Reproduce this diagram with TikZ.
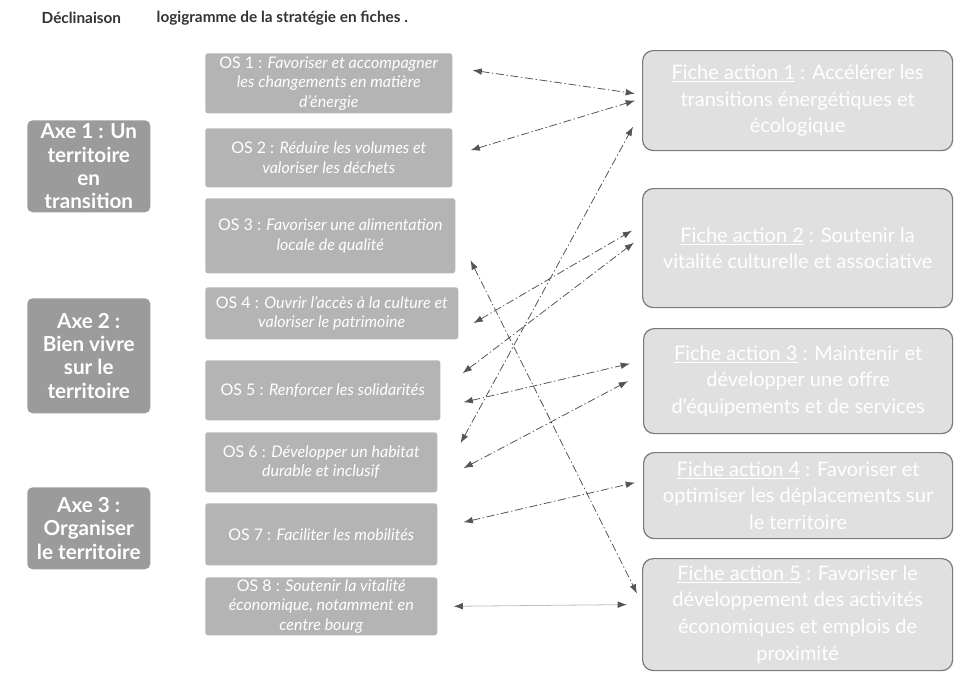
\documentclass[tikz,border=0pt]{standalone}
\usepackage{fontspec}
\setmainfont{Lato}
\usetikzlibrary{arrows.meta}
\definecolor{axegray}{HTML}{9B9B9B}
\definecolor{osgray}{HTML}{B4B4B4}
\definecolor{fichegray}{HTML}{E0E0E0}
\definecolor{fichebord}{HTML}{7A7A7A}
\definecolor{linkgray}{HTML}{555555}
\begin{document}
\begin{tikzpicture}[x=0.75pt,y=-0.75pt,
  axebox/.style={fill=axegray,rounded corners=4pt,text=white,align=center,font=\fontsize{15.5}{17.5}\selectfont\bfseries,inner sep=0pt,anchor=north west},
  osbox/.style={fill=osgray,rounded corners=2pt,text=white,align=center,font=\fontsize{12}{14.6}\selectfont,inner sep=0pt,anchor=north west},
  fiche/.style={fill=fichegray,draw=fichebord,line width=0.9pt,rounded corners=8pt,text=white,align=center,font=\fontsize{15}{20}\selectfont,inner sep=0pt,anchor=north west},
  link/.style={draw=linkgray,line width=0.6pt,dash pattern=on 6pt off 2pt on 1pt off 2pt,{Latex[length=7pt,width=5pt]}-{Latex[length=7pt,width=5pt]}}
]
%\draw [help lines, color=lightgray] (0,0) grid [step=50] (956,679);
\useasboundingbox (0,0) rectangle (956,679);
\node [font=\fontsize{11.5}{13}\selectfont\bfseries,text=black!80,anchor=west] (titre1) at (37,18) {Déclinaison};
\node [font=\fontsize{11.5}{13}\selectfont\bfseries,text=black!80,anchor=west] (titre2) at (152,18) {logigramme de la stratégie en fiches .};

\node [axebox,minimum width=123*0.75pt,minimum height=92*0.75pt] (axe1) at (27,120) {Axe 1 : Un\\territoire\\en\\transition};
\node [axebox,minimum width=123*0.75pt,minimum height=115*0.75pt] (axe2) at (27,298) {Axe 2 :\\Bien vivre\\sur le\\territoire};
\node [axebox,minimum width=123*0.75pt,minimum height=82*0.75pt] (axe3) at (27,487) {Axe 3 :\\Organiser\\le territoire};

\node [osbox,minimum width=247*0.75pt,minimum height=60*0.75pt] (os1) at (205,53) {OS 1 : \textit{Favoriser et accompagner}\\\textit{les changements en matière}\\\textit{d'énergie}};
\node [osbox,minimum width=247*0.75pt,minimum height=59*0.75pt] (os2) at (205,128) {OS 2 : \textit{Réduire les volumes et}\\\textit{valoriser les déchets}};
\node [osbox,minimum width=250*0.75pt,minimum height=75*0.75pt] (os3) at (205,198) {OS 3 : \textit{Favoriser une alimentation}\\\textit{locale de qualité}};
\node [osbox,minimum width=253*0.75pt,minimum height=52*0.75pt] (os4) at (205,287) {OS 4 : \textit{Ouvrir l'accès à la culture et}\\\textit{valoriser le patrimoine}};
\node [osbox,minimum width=235*0.75pt,minimum height=60*0.75pt] (os5) at (205,360) {OS 5 : \textit{Renforcer les solidarités}};
\node [osbox,minimum width=232*0.75pt,minimum height=60*0.75pt] (os6) at (205,432) {OS 6 : \textit{Développer un habitat}\\\textit{durable et inclusif}};
\node [osbox,minimum width=232*0.75pt,minimum height=62*0.75pt] (os7) at (205,503) {OS 7 : \textit{Faciliter les mobilités}};
\node [osbox,minimum width=232*0.75pt,minimum height=58*0.75pt] (os8) at (205,577) {OS 8 : \textit{Soutenir la vitalité}\\\textit{économique, notamment en}\\\textit{centre bourg}};

\node [fiche,minimum width=310*0.75pt,minimum height=100*0.75pt] (f1) at (642,50) {\underline{Fiche action 1} : Accélérer les\\transitions énergétiques et\\écologique};
\node [fiche,minimum width=310*0.75pt,minimum height=119*0.75pt] (f2) at (642,188) {\underline{Fiche action 2} : Soutenir la\\vitalité culturelle et associative};
\node [fiche,minimum width=309*0.75pt,minimum height=105*0.75pt] (f3) at (643,328) {\underline{Fiche action 3} : Maintenir et\\développer une offre\\d'équipements et de services};
\node [fiche,minimum width=309*0.75pt,minimum height=86*0.75pt] (f4) at (643,452) {\underline{Fiche action 4} : Favoriser et\\optimiser les déplacements sur\\le territoire};
\node [fiche,minimum width=310*0.75pt,minimum height=112*0.75pt] (f5) at (642,558) {\underline{Fiche action 5} : Favoriser le\\développement des activités\\économiques et emplois de\\proximité};

\draw [link] ([shift={(20,-13)}]os1.east) -- ([shift={(-7,-7)}]f1.west);
\draw [link] ([shift={(18,-7.5)}]os2.east) -- ([shift={(-7,0)}]f1.west);
\draw [link] ([shift={(23,-19)}]os6.east) -- ([shift={(-9,26)}]f1.west);
\draw [link] ([shift={(15,24.5)}]os3.east) -- ([shift={(-5,-21)}]f5.west);
\draw [link] ([shift={(15,10)}]os4.east) -- ([shift={(-10,-17.5)}]f2.west);
\draw [link] ([shift={(22,-17)}]os5.east) -- ([shift={(-8,-5.5)}]f2.west);
\draw [link] ([shift={(23,12)}]os5.east) -- ([shift={(-13,-17.5)}]f3.west);
\draw [link] ([shift={(26,6)}]os6.east) -- ([shift={(-15,0)}]f3.west);
\draw [link] ([shift={(26,-12)}]os7.east) -- ([shift={(-8,-13)}]f4.west);
\draw [link,draw=black!25,solid,{Latex[length=7pt,width=5pt,color=linkgray]}-{Latex[length=7pt,width=5pt,color=linkgray]}] ([shift={(16,0)}]os8.east) -- ([shift={(-15,-10)}]f5.west);

\end{tikzpicture}
\end{document}
